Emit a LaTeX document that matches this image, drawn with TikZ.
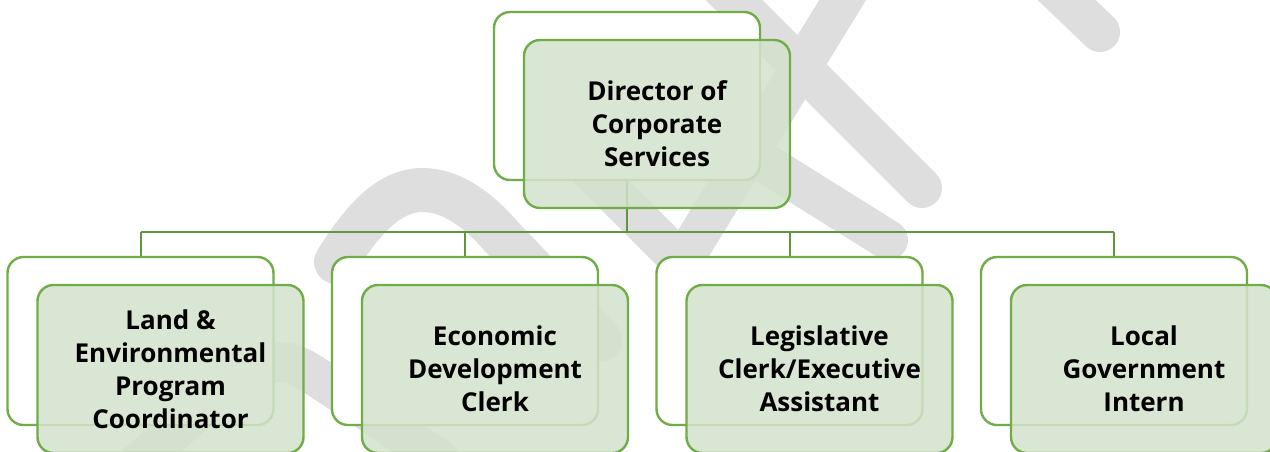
\documentclass[tikz,border=0pt]{standalone}
\usepackage{fontspec}
\newfontfamily\boxfont{Open Sans}
\definecolor{boxgreen}{RGB}{112,173,71}
\definecolor{linegreen}{RGB}{96,150,62}
\definecolor{frontfill}{RGB}{211,226,204}
\definecolor{wmgray}{RGB}{222,222,222}
\pgfdeclarelayer{wmlayer}
\pgfdeclarelayer{connlayer}
\pgfsetlayers{wmlayer,connlayer,main}
\begin{document}
\begin{tikzpicture}[x=0.75pt,y=-0.75pt,
  backbox/.style={draw=boxgreen, line width=1.8pt, fill=white, rounded corners=12pt,
    minimum width=199.5pt, minimum height=126pt, inner sep=0pt},
  frontbox/.style={draw=boxgreen, line width=1.8pt, fill=frontfill, fill opacity=0.85,
    text opacity=1, rounded corners=12pt, minimum width=199.5pt, minimum height=126pt,
    inner sep=0pt, align=center, text=black,
    font=\boxfont\bfseries\fontsize{19.5}{24.75}\selectfont},
  conn/.style={draw=linegreen, line width=1.5pt},
  wmstroke/.style={draw=wmgray, line width=30pt, line cap=round, line join=round}]
\useasboundingbox (0,0) rectangle (1270,451);
\begin{pgfonlayer}{wmlayer}
  \clip (0,0) rectangle (1270,451);
  \draw[wmstroke, line width=33pt] (336,262) .. controls (365,215) and (392,190) .. (422,190)
     .. controls (452,190) and (478,210) .. (500,235) -- (600,340);
  \draw[wmstroke] (130,470) .. controls (200,410) and (245,362) .. (282,362)
     .. controls (298,362) and (310,372) .. (440,460);
  \draw[wmstroke] (560,140) -- (682,262) -- (850,-12);
  \draw[wmstroke] (760,160) -- (888,240);
  \draw[wmstroke] (690,-44) -- (922,188);
  \draw[wmstroke] (1030,-35) -- (1100,32);
\end{pgfonlayer}
% back boxes
\node[backbox] (top) at (627,96) {};
\node[backbox] (b1) at (140.5,341) {};
\node[backbox] (b2) at (465,341) {};
\node[backbox] (b3) at (789.5,341) {};
\node[backbox] (b4) at (1114,341) {};
% front boxes
\node[frontbox] (ftop) at (657,124) {Director of\\Corporate\\Services};
\node[frontbox] (f1) at (170.5,369) {Land \&\\Environmental\\Program\\Coordinator};
\node[frontbox] (f2) at (495,369) {Economic\\Development\\Clerk};
\node[frontbox] (f3) at (819.5,369) {Legislative\\Clerk/Executive\\Assistant};
\node[frontbox] (f4) at (1144,369) {Local\\Government\\Intern};
% connectors
\coordinate (bus) at (0,232);
\begin{pgfonlayer}{connlayer}
  \draw[conn] (top.south) -- (top.south |- bus);
  \draw[conn] (b1.north |- bus) -- (b4.north |- bus);
  \foreach \i in {1,2,3,4} { \draw[conn] (b\i.north |- bus) -- (b\i.north); }
\end{pgfonlayer}
\end{tikzpicture}
\end{document}
